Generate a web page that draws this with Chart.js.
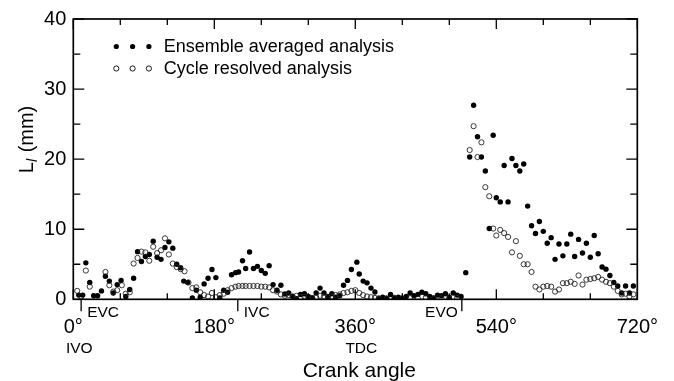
<!DOCTYPE html>
<html>
<head>
<meta charset="utf-8">
<script src="https://cdn.jsdelivr.net/npm/chart.js@4.4.1/dist/chart.umd.min.js"></script>
<style>
  html, body { margin: 0; padding: 0; background: #fff; }
</style>
</head>
<body>
<canvas id="lengthScale" width="674" height="381"></canvas>
<script>
// crank angle (deg) and integral length scale L_l (mm)
const ensembleAngle = [7, 12, 16, 21, 26, 31, 36, 41, 46, 51, 56, 61, 67, 72, 77, 82, 87, 92, 97, 102,
  107, 112, 117, 122, 127, 132, 137, 141, 146, 152, 157, 162, 167, 172, 177, 182, 187, 192, 197, 202,
  207, 211, 216, 220, 225, 230, 235, 240, 245, 250, 255, 260, 265, 270, 275, 280, 285, 290, 295, 300,
  305, 310, 315, 320, 325, 330, 335, 340, 345, 350, 355, 362, 365, 370, 375, 380, 385, 390, 395, 400,
  405, 410, 415, 420, 425, 430, 435, 440, 445, 450, 455, 460, 465, 470, 475, 480, 485, 490, 495, 501,
  506, 511, 516, 521, 526, 531, 536, 540, 545, 550, 555, 560, 565, 570, 575, 580, 585, 590, 595, 600,
  605, 610, 615, 620, 625, 630, 635, 640, 645, 650, 655, 660, 665, 670, 675, 680, 685, 690, 695, 700,
  705, 710, 715];
const ensembleL = [0.6, 0.6, 5.2, 2.4, 0.5, 0.5, 1.2, 3.3, 2.6, 0.9, 2.1, 2.7, 0.4, 1.4, 3.0, 6.8, 5.4, 6.1, 6.4, 8.3,
  6.0, 5.7, 7.4, 8.2, 7.3, 5.0, 4.5, 2.6, 2.4, 0.2, 1.3, 0.3, 2.2, 3.0, 4.25, 3.1, 0.2, 1.3, 1.0, 3.5,
  3.8, 3.9, 5.5, 4.4, 6.75, 4.4, 4.7, 4.1, 3.7, 4.8, 2.1, 1.3, 2.0, 0.75, 0.9, 0.4, 0.1, 0.7, 0.8, 0.4,
  0.2, 0.9, 1.6, 0.9, 0.4, 0.8, 0.3, 0.5, 2.0, 2.7, 4.25, 5.3, 3.6, 2.6, 2.35, 1.6, 1.05, 0.1, 0.3, 0.15,
  0.7, 0.2, 0.3, 0.15, 0.4, 0.9, 0.5, 0.7, 1.0, 0.8, 0.4, 0.2, 0.6, 0.5, 0.8, 0.3, 0.9, 0.6, 0.4, 3.8,
  20.3, 27.7, 23.2, 20.3, 18.3, 10.1, 23.4, 14.5, 13.9, 19.1, 13.9, 20.1, 19.1, 18.3, 19.3, 13.3, 10.5, 9.4, 11.1, 9.7,
  8.0, 8.8, 5.7, 7.9, 6.2, 7.9, 9.3, 6.1, 8.55, 6.6, 8.0, 6.0, 9.1, 6.5, 4.6, 4.3, 3.4, 2.4, 1.9, 0.9,
  1.9, 0.9, 1.9];

const cycleAngle = [5, 10, 16, 21, 41, 46, 51, 56, 62, 67, 72, 77, 82, 87, 92, 97, 102, 107, 112, 117,
  122, 127, 132, 137, 142, 147, 152, 157, 162, 167, 172, 177, 182, 187, 192, 197, 202, 207, 211, 216,
  220, 225, 230, 235, 240, 245, 250, 255, 260, 265, 270, 275, 280, 285, 290, 295, 300, 305, 310, 315,
  320, 325, 330, 335, 340, 345, 350, 355, 360, 365, 370, 375, 380, 385, 390, 400, 410, 420, 430, 440,
  450, 460, 470, 480, 490, 506, 511, 516, 521, 526, 531, 536, 540, 545, 550, 555, 560, 565, 570, 575,
  580, 585, 590, 595, 600, 605, 610, 615, 620, 625, 630, 635, 640, 645, 650, 655, 660, 665, 670, 675,
  680, 685, 690, 695, 700, 705, 710, 715];
const cycleL = [1.2, 0.4, 4.1, 1.8, 3.9, 2.0, 1.1, 1.3, 2.0, 0.8, 1.0, 5.1, 5.9, 6.8, 6.7, 5.5, 7.5, 6.6, 7.0, 8.7,
  6.4, 5.1, 4.6, 4.3, 4.0, 2.4, 1.6, 1.7, 1.0, 0.6, 0.4, 0.9, 0.3, 0.6, 0.8, 1.3, 1.6, 1.8, 1.9, 1.9,
  1.9, 1.9, 1.9, 1.9, 1.8, 1.8, 1.7, 1.3, 1.1, 0.7, 0.5, 0.6, 0.4, 0.5, 0.3, 0.4, 0.3, 0.2, 0.3, 0.5,
  0.4, 0.3, 0.4, 0.6, 0.7, 0.9, 1.0, 1.2, 1.3, 0.9, 0.6, 0.4, 0.3, 0.2, 0.15, 0.1, 0.2, 0.1, 0.15, 0.1,
  0.2, 0.1, 0.15, 0.1, 0.2, 21.3, 24.7, 20.3, 22.4, 16.0, 14.7, 10.1, 9.1, 9.9, 9.45, 8.9, 6.7, 8.3, 6.2, 5.0,
  5.0, 3.9, 1.8, 1.4, 1.8, 1.9, 1.8, 1.1, 1.4, 2.3, 2.3, 2.5, 2.2, 3.4, 2.1, 2.8, 2.9, 3.0, 3.2, 2.8,
  2.5, 2.3, 1.8, 1.2, 0.7, 0.8, 0.4, 0.7];

const angleTicks = [0, 180, 360, 540, 720];
const angleTickLabels = ['0°', '180°', '360°', '540°', '720°'];
const angleSubLabels = ['IVO', '', 'TDC', '', ''];
const lengthTicks = [0, 10, 20, 30, 40];
const valveEvents = ['EVC', 'IVC', 'EVO'];
const valveAngles = [10, 210, 496];
const seriesNames = ['Ensemble averaged analysis', 'Cycle resolved analysis'];

const FONT = '"Liberation Sans", Arial, Helvetica, sans-serif';

function toPoints(xs, ys) {
  return xs.map((a, i) => ({ x: a, y: ys[i] }));
}

// frame with inward ticks, valve events, sub labels, titles and legend
const decorations = {
  id: 'decorations',
  afterDraw(chart) {
    const { ctx, chartArea: a, scales: { x, y } } = chart;
    ctx.save();
    ctx.strokeStyle = '#000';
    ctx.fillStyle = '#000';
    ctx.lineWidth = 1.7;
    ctx.strokeRect(a.left, a.top, a.right - a.left, a.bottom - a.top);

    ctx.lineWidth = 1.3;
    ctx.beginPath();
    for (let v = 0; v <= 720; v += 60) {
      const px = x.getPixelForValue(v);
      const len = v % 180 === 0 ? 10 : 6;
      ctx.moveTo(px, a.bottom); ctx.lineTo(px, a.bottom - len);
      ctx.moveTo(px, a.top); ctx.lineTo(px, a.top + len);
    }
    for (let v = 0; v <= 40; v += 5) {
      const py = y.getPixelForValue(v);
      const len = v % 10 === 0 ? 11 : 7;
      ctx.moveTo(a.left, py); ctx.lineTo(a.left + len, py);
      ctx.moveTo(a.right, py); ctx.lineTo(a.right - len, py);
    }
    // valve event marks below the axis
    valveAngles.forEach(v => {
      const px = x.getPixelForValue(v);
      ctx.moveTo(px, a.bottom); ctx.lineTo(px, a.bottom + 12);
    });
    ctx.stroke();

    ctx.font = '15.5px ' + FONT;
    ctx.textBaseline = 'alphabetic';
    valveEvents.forEach((name, i) => {
      const px = x.getPixelForValue(valveAngles[i]);
      if (name === 'EVO') {
        ctx.textAlign = 'right';
        ctx.fillText(name, px - 4, a.bottom + 18);
      } else {
        ctx.textAlign = 'left';
        ctx.fillText(name, px + 6, a.bottom + 18);
      }
    });

    ctx.textAlign = 'center';
    angleSubLabels.forEach((s, i) => {
      if (!s) return;
      ctx.fillText(s, x.getPixelForValue(angleTicks[i]) + 6, a.bottom + 54);
    });

    ctx.font = '21px ' + FONT;
    ctx.fillText('Crank angle', (a.left + a.right) / 2 + 4, a.bottom + 78);

    // y title: L with italic subscript l
    ctx.save();
    ctx.translate(33, (a.top + a.bottom) / 2 + 14);
    ctx.rotate(-Math.PI / 2);
    ctx.textAlign = 'left';
    ctx.font = '20px ' + FONT;
    let cx = 0;
    ctx.fillText('L', cx, 0);
    cx += ctx.measureText('L').width;
    ctx.font = 'italic 14px ' + FONT;
    ctx.fillText('l', cx, 4);
    cx += ctx.measureText('l').width + 1;
    ctx.font = '20px ' + FONT;
    ctx.fillText(' (mm)', cx, 0);
    ctx.restore();

    // legend inside the plot
    const lx = a.left + 43;
    const rows = [a.top + 27.5, a.top + 49.5];
    ctx.font = '18px ' + FONT;
    ctx.textAlign = 'left';
    ctx.textBaseline = 'middle';
    rows.forEach((ry, r) => {
      for (let k = 0; k < 3; k++) {
        ctx.beginPath();
        ctx.arc(lx + k * 16.3, ry, 2.6, 0, Math.PI * 2);
        if (r === 0) ctx.fill();
        else { ctx.lineWidth = 0.9; ctx.stroke(); }
      }
      ctx.fillText(seriesNames[r], lx + 47.5, ry + 1);
    });
    ctx.restore();
  }
};

const ctx = document.getElementById('lengthScale');
const lengthChart = new Chart(ctx, {
  type: 'scatter',
  data: {
    datasets: [{
      label: seriesNames[1],
      data: toPoints(cycleAngle, cycleL),
      pointRadius: 2.6,
      pointBorderWidth: 0.9,
      pointBorderColor: '#222',
      pointBackgroundColor: 'rgba(0,0,0,0)'
    }, {
      label: seriesNames[0],
      data: toPoints(ensembleAngle, ensembleL),
      pointRadius: 2.7,
      pointBorderWidth: 0,
      pointBackgroundColor: '#000'
    }]
  },
  options: {
    responsive: false,
    animation: false,
    events: [],
    layout: { padding: { left: 0, top: 16.5, right: 25.7, bottom: 0 } },
    plugins: { legend: { display: false }, tooltip: { enabled: false } },
    scales: {
      x: {
        type: 'linear',
        min: 0,
        max: 720,
        afterBuildTicks: s => { s.ticks = angleTicks.map(v => ({ value: v })); },
        afterFit: s => { s.height = 81.7; },
        grid: { display: false, drawTicks: false },
        border: { display: false },
        ticks: {
          padding: 16,
          color: '#000',
          font: { family: FONT, size: 20 },
          maxRotation: 0,
          callback: v => angleTickLabels[angleTicks.indexOf(v)]
        }
      },
      y: {
        min: 0,
        max: 40,
        afterBuildTicks: s => { s.ticks = lengthTicks.map(v => ({ value: v })); },
        afterFit: s => { s.width = 73.3; },
        grid: { display: false, drawTicks: false },
        border: { display: false },
        ticks: {
          padding: 7,
          color: '#000',
          font: { family: FONT, size: 20 }
        }
      }
    }
  },
  plugins: [decorations]
});
</script>
</body>
</html>
